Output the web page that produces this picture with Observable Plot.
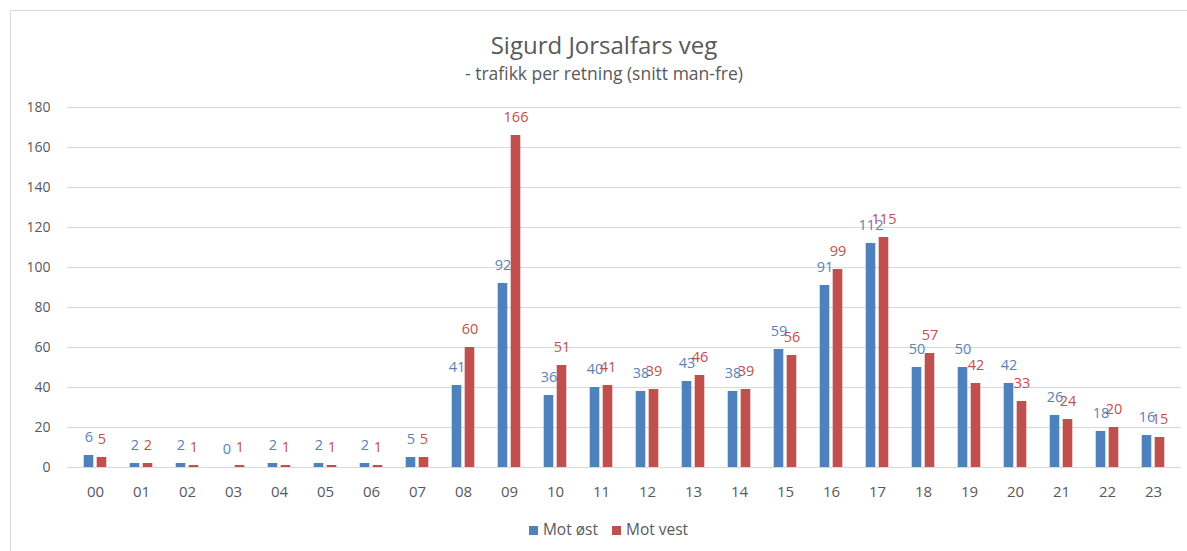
<!DOCTYPE html>
<html>
<head>
<meta charset="utf-8">
<script src="https://cdn.jsdelivr.net/npm/d3@7"></script>
<script src="https://cdn.jsdelivr.net/npm/@observablehq/plot@0.6"></script>
<style>
  html, body { margin: 0; padding: 0; background: #fff; overflow: hidden; }
  #wrap { position: relative; width: 1187px; height: 551px; font-family: "Open Sans", sans-serif; color: #595959; }
  #frame { position: absolute; left: 10px; top: 10px; width: 1200px; height: 600px; border: 1px solid #d9d9d9; box-sizing: border-box; }
  #title { position: absolute; left: 0; width: 1208px; top: 29px; text-align: center; font-size: 24px; line-height: 32px; }
  #subtitle { position: absolute; left: 0; width: 1208px; top: 62px; text-align: center; font-size: 17.5px; line-height: 22px; }
  #chart { position: absolute; left: 0; top: 0; }
  #legend { position: absolute; left: 0; width: 1217px; top: 518px; text-align: center; font-size: 15.5px; line-height: 22px; }
  #legend .item { display: inline-block; margin: 0 7px; }
  #legend .sw { display: inline-block; width: 9px; height: 9px; margin-right: 5px; vertical-align: 0px; }
  #chart [aria-label^="x-axis"] text { font-size: 15px; }
  #chart [aria-label^="y-axis"] text { font-size: 14px; }
</style>
</head>
<body>
<div id="wrap">
  <div id="frame"></div>
  <div id="title">Sigurd Jorsalfars veg</div>
  <div id="subtitle">- trafikk per retning (snitt man-fre)</div>
  <div id="chart"></div>
  <div id="legend"></div>
</div>
<script>
const hours = ["00","01","02","03","04","05","06","07","08","09","10","11","12","13","14","15","16","17","18","19","20","21","22","23"];
const motOst  = [6, 2, 2, 0, 2, 2, 2, 5, 41, 92, 36, 40, 38, 43, 38, 59, 91, 112, 50, 50, 42, 26, 18, 16];
const motVest = [5, 2, 1, 1, 1, 1, 1, 5, 60, 166, 51, 41, 39, 46, 39, 56, 99, 115, 57, 42, 33, 24, 20, 15];
const seriesNames = ["Mot øst", "Mot vest"];
const seriesColors = ["#4f81bd", "#c0504d"];
const labelColors = ["#5b82b8", "#c0504d"];
const yTicks = [0, 20, 40, 60, 80, 100, 120, 140, 160, 180];

const ost = hours.map((h, i) => ({hour: h, value: motOst[i]}));
const vest = hours.map((h, i) => ({hour: h, value: motVest[i]}));

const inset = 18.2;
const off = 6.5;

const chart = Plot.plot({
  width: 1187,
  height: 510,
  marginLeft: 67,
  marginRight: 6,
  marginTop: 107,
  marginBottom: 43,
  style: {background: "transparent", fontFamily: "Open Sans, sans-serif", fontSize: "13px", color: "#595959"},
  x: {domain: hours, padding: 0, label: null, tickSize: 0, tickPadding: 19},
  y: {domain: [0, 180], ticks: yTicks, label: null, tickSize: 0, tickPadding: 17},
  marks: [
    Plot.ruleY(yTicks, {stroke: "#d9d9d9", strokeWidth: 1}),
    Plot.barY(ost, {x: "hour", y: "value", fill: seriesColors[0], insetLeft: inset, insetRight: inset, dx: -off}),
    Plot.barY(vest, {x: "hour", y: "value", fill: seriesColors[1], insetLeft: inset, insetRight: inset, dx: off}),
    Plot.text(ost, {x: "hour", y: "value", text: d => String(d.value), fill: labelColors[0], dx: -off, dy: -18, fontSize: 14.5}),
    Plot.text(vest, {x: "hour", y: "value", text: d => String(d.value), fill: labelColors[1], dx: off, dy: -18, fontSize: 14.5})
  ]
});
document.getElementById("chart").appendChild(chart);

const legend = document.getElementById("legend");
seriesNames.forEach((name, i) => {
  const item = document.createElement("span");
  item.className = "item";
  const sw = document.createElement("span");
  sw.className = "sw";
  sw.style.background = seriesColors[i];
  item.appendChild(sw);
  item.appendChild(document.createTextNode(name));
  legend.appendChild(item);
});
</script>
</body>
</html>
